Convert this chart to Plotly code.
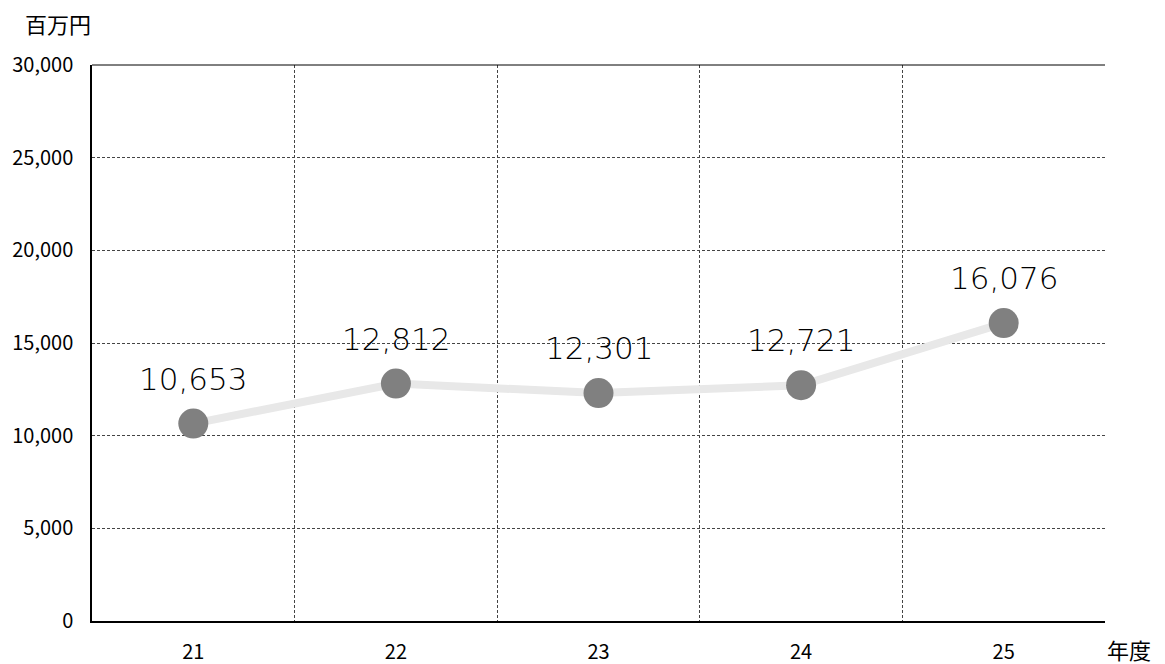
import plotly.graph_objects as go

categories = ["21", "22", "23", "24", "25"]
values = [10653, 12812, 12301, 12721, 16076]
y_ticks = [0, 5000, 10000, 15000, 20000, 25000, 30000]
y_tick_labels = ["0", "5,000", "10,000", "15,000", "20,000", "25,000", "30,000"]

xs = list(range(len(categories)))

fig = go.Figure()
fig.add_trace(go.Scatter(
    x=xs, y=values, mode="lines+markers",
    line=dict(color="#e8e8e8", width=8),
    marker=dict(color="#808080", size=30),
    hoverinfo="skip",
))

for x, v in zip(xs, values):
    fig.add_annotation(x=x, y=v, xref="x", yref="y", text=f"{v:,}",
                       showarrow=False, yshift=45,
                       font=dict(family="DejaVu Sans", size=31, color="#000000", weight=300))

fig.add_annotation(x=0, y=1, xref="paper", yref="paper", text="百万円",
                   showarrow=False, xanchor="right", yanchor="middle",
                   xshift=0, yshift=42, borderpad=0,
                   font=dict(family="Noto Sans CJK JP", size=22, color="#000"))
fig.add_annotation(x=1, y=0, xref="paper", yref="paper", text="年度",
                   showarrow=False, xanchor="left", yanchor="middle",
                   xshift=1, yshift=-28, borderpad=0,
                   font=dict(family="Noto Sans CJK JP", size=22, color="#000"))

fig.add_shape(type="line", xref="paper", yref="paper", x0=0, x1=1, y0=1, y1=1,
              line=dict(color="#000", width=1))

fig.update_layout(
    width=1165, height=664,
    margin=dict(l=84, r=68, t=57, b=51, autoexpand=False),
    plot_bgcolor="white", paper_bgcolor="white",
    showlegend=False,
    font=dict(family="Noto Sans CJK JP", size=20, color="#000"),
    xaxis=dict(
        range=[-0.5, len(categories) - 0.5],
        tickvals=xs, ticktext=categories,
        showgrid=False, zeroline=False, automargin=False,
        showline=True, linecolor="#000", linewidth=1.5,
        ticks="", ticklabelstandoff=12,
        minor=dict(tick0=0.5, dtick=1, showgrid=True, gridcolor="#444",
                   griddash="3px,2px", gridwidth=1, ticks=""),
        fixedrange=True,
    ),
    yaxis=dict(
        range=[0, 30000],
        tickvals=y_ticks, ticktext=y_tick_labels,
        showgrid=True, gridcolor="#444", griddash="3px,2px", gridwidth=1,
        zeroline=False, automargin=False,
        showline=True, linecolor="#000", linewidth=1.5,
        ticks="", ticklabelstandoff=13,
        fixedrange=True,
    ),
)

fig.write_html("out.html")
